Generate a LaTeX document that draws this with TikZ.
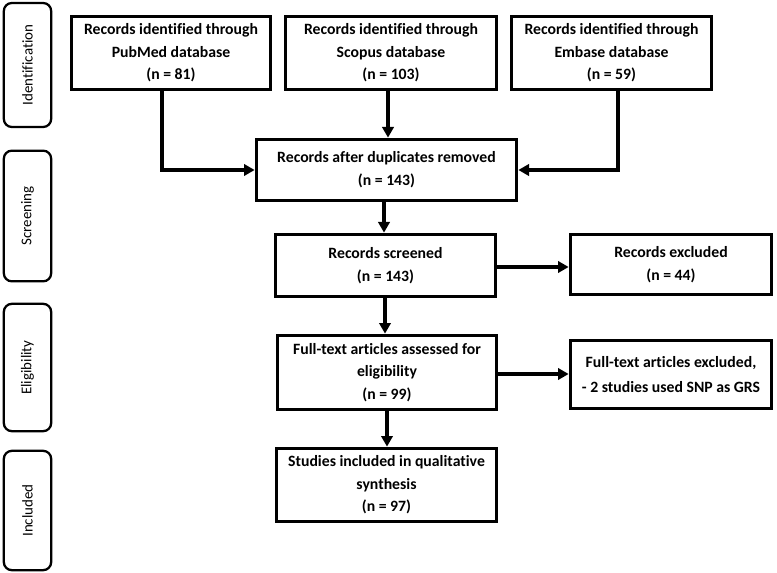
\documentclass[tikz,border=0pt]{standalone}
\usepackage{fontspec}
\setmainfont{Carlito}[Ligatures=NoCommon]
\usetikzlibrary{arrows.meta}
\begin{document}
\begin{tikzpicture}[x=0.75pt,y=-0.75pt,
  box/.style={draw, line width=2.5pt, align=center, font=\fontsize{11.8}{17}\selectfont\bfseries, inner sep=0pt},
  side/.style={draw, line width=1.7pt, rounded corners=6pt, rotate=90, font=\fontsize{11.2}{13}\selectfont, inner sep=0pt},
  arr/.style={line width=2.4pt, -{Triangle[length=8pt,width=8.5pt]}}]
\useasboundingbox (0,0) rectangle (777,573);
% side labels
\node[side, minimum width=93pt, minimum height=35.5pt] (ide) at (27.5,65) {Identification};
\node[side, minimum width=98pt, minimum height=35.5pt] (scl) at (27.5,216) {Screening};
\node[side, minimum width=95.5pt, minimum height=35.5pt] (eli) at (27.5,367.5) {Eligibility};
\node[side, minimum width=89.5pt, minimum height=35.5pt] (inc) at (27.5,510.5) {Included};
% boxes
\node[box, minimum width=149.5pt, minimum height=55pt] (pub) at (171,53) {Records identified through\\PubMed database\\(n = 81)};
\node[box, minimum width=158.5pt, minimum height=55pt] (sco) at (391,53) {Records identified through\\Scopus database\\(n = 103)};
\node[box, minimum width=150.25pt, minimum height=55pt] (emb) at (611.5,53) {Records identified through\\Embase database\\(n = 59)};
\node[box, minimum width=195.25pt, minimum height=46pt] (dup) at (386.5,170) {Records after duplicates removed\\(n = 143)};
\node[box, minimum width=165.25pt, minimum height=46.75pt] (scr) at (385.5,265.5) {Records screened\\(n = 143)};
\node[box, minimum width=151pt, minimum height=45.25pt] (exc) at (671,264.5) {Records excluded\\(n = 44)};
\node[box, minimum width=164.5pt, minimum height=55.75pt] (ful) at (387,372.5) {Full-text articles assessed for\\eligibility\\(n = 99)};
\node[box, minimum width=151pt, minimum height=51.25pt, font=\fontsize{11.8}{19}\selectfont\bfseries] (ex2) at (671,374.5) {Full-text articles excluded,\\- 2 studies used SNP as GRS};
\node[box, minimum width=165.25pt, minimum height=55pt] (stu) at (386.5,485) {Studies included in qualitative\\synthesis\\(n = 97)};
% connectors
\coordinate (pl) at (162,0);
\coordinate (el) at (618,0);
\coordinate (sl) at (388,0);
\draw[arr] (pub.south -| pl) |- (dup.west);
\draw[arr] (emb.south -| el) |- (dup.east);
\draw[arr] (sco.south -| sl) -- (dup.north -| sl);
\draw[arr] (dup.south -| 384,0) -- (scr.north -| 384,0);
\draw[arr] (scr.east |- 0,267) -- (exc.west |- 0,267);
\draw[arr] (scr.south -| 385,0) -- (ful.north -| 385,0);
\draw[arr] (ful.east |- 0,374) -- (ex2.west |- 0,374);
\draw[arr] (ful.south -| 387,0) -- (stu.north -| 387,0);
\end{tikzpicture}
\end{document}
